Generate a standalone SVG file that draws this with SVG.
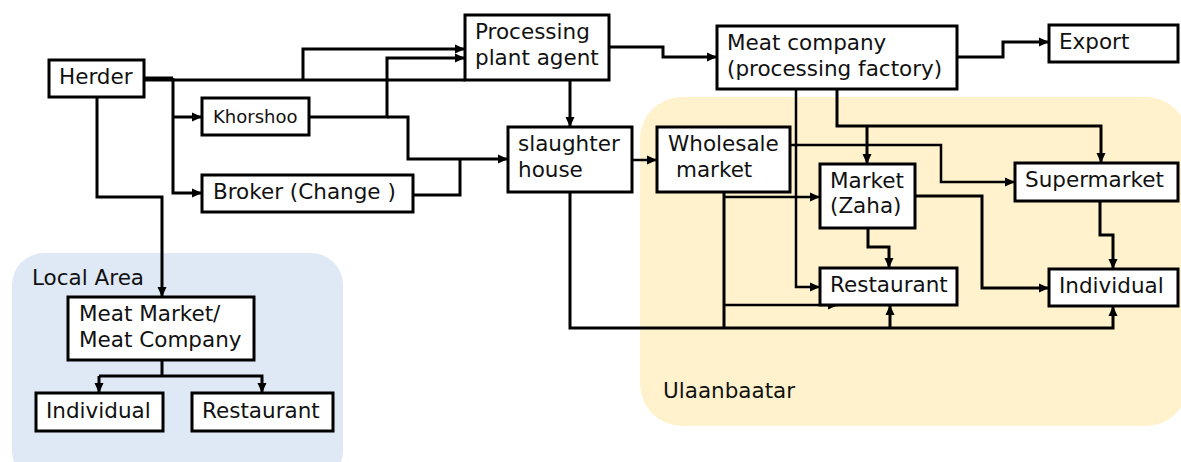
<svg xmlns="http://www.w3.org/2000/svg" width="1181" height="462" viewBox="0 0 1181 462">
<defs>
<style>
.box{fill:#fff;stroke:#000;stroke-width:3}
.t{font-family:"DejaVu Sans",Verdana,sans-serif;font-size:21.5px;fill:#111}
.ts{font-family:"DejaVu Sans",Verdana,sans-serif;font-size:18px;fill:#111}
.c{fill:none;stroke:#000;stroke-width:3;stroke-linejoin:miter}
.c2{fill:none;stroke:#000;stroke-width:2.5;stroke-linejoin:miter}
</style>
<marker id="ah" viewBox="0 0 10 10" refX="10" refY="5" markerWidth="10" markerHeight="10" markerUnits="userSpaceOnUse" orient="auto">
<path d="M0,0.5 L10,5 L0,9.5 z" fill="#000"/>
</marker>
</defs>

<g id="regions">
<rect id="local-area" x="12" y="253" width="331" height="230" rx="32" fill="#DEE9F5"/>
<text class="t" x="32" y="285">Local Area</text>
<rect id="ulaanbaatar" x="640" y="97" width="548" height="329" rx="42" fill="#FFF2CC"/>
<text class="t" x="663" y="398">Ulaanbaatar</text>
</g>

<g id="connectors">
<path class="c" d="M144,78 H173"/>
<path class="c" d="M144,80 H465"/>
<path class="c" d="M303,80 V49 H465" marker-end="url(#ah)"/>
<path class="c" d="M173,78 V193 H202" marker-end="url(#ah)"/>
<path class="c" d="M173,117 H202" marker-end="url(#ah)"/>
<path class="c" d="M97,97 V197 H162 V297" marker-end="url(#ah)"/>
<path class="c" d="M309,117 H387 V58 H465" marker-end="url(#ah)"/>
<path class="c" d="M387,117 H408 V159 H508" marker-end="url(#ah)"/>
<path class="c" d="M413,195 H460 V159"/>
<path class="c" d="M570,80 V127" marker-end="url(#ah)"/>
<path class="c" d="M609,47 H663 V57 H717" marker-end="url(#ah)"/>
<path class="c" d="M957,57 H1003 V42 H1049" marker-end="url(#ah)"/>
<path class="c2" d="M632,160 H657" marker-end="url(#ah)"/>
<path class="c" d="M570,192 V328 H1113 V306" marker-end="url(#ah)"/>
<path class="c" d="M890,328 V305" marker-end="url(#ah)"/>
<path class="c" d="M724,192 V328"/>
<path class="c2" d="M724,197 H820" marker-end="url(#ah)"/>
<path class="c2" d="M724,305 H838" marker-end="url(#ah)"/>
<path class="c2" d="M790,145 H941 V182 H1015" marker-end="url(#ah)"/>
<path class="c2" d="M796,89 V287 H820" marker-end="url(#ah)"/>
<path class="c" d="M837,89 V126 H1101 V163" marker-end="url(#ah)"/>
<path class="c" d="M867,126 V164" marker-end="url(#ah)"/>
<path class="c" d="M868,228 V247 H889 V268" marker-end="url(#ah)"/>
<path class="c" d="M915,196 H982 V288 H1049" marker-end="url(#ah)"/>
<path class="c" d="M1100,201 V235 H1113 V269" marker-end="url(#ah)"/>
<path class="c" d="M162,360 V376"/>
<path class="c" d="M99,376 H262 V393" marker-end="url(#ah)"/>
<path class="c" d="M99,376 V393" marker-end="url(#ah)"/>
</g>

<g id="herder"><rect class="box" x="49" y="60" width="95" height="37"/><text class="t" x="59" y="84">Herder</text></g>
<g id="khorshoo"><rect class="box" x="202" y="98" width="107" height="37"/><text class="ts" x="213" y="123">Khorshoo</text></g>
<g id="broker"><rect class="box" x="202" y="175" width="211" height="37"/><text class="t" x="213" y="199">Broker (Change )</text></g>
<g id="processing-plant-agent"><rect class="box" x="465" y="15" width="144" height="65"/><text class="t" x="475" y="39">Processing</text><text class="t" x="475" y="65">plant agent</text></g>
<g id="meat-company"><rect class="box" x="717" y="26" width="240" height="63"/><text class="t" x="727" y="50">Meat company</text><text class="t" x="727" y="76">(processing factory)</text></g>
<g id="export"><rect class="box" x="1049" y="25" width="129" height="37"/><text class="t" x="1059" y="49">Export</text></g>
<g id="slaughter-house"><rect class="box" x="508" y="127" width="124" height="65"/><text class="t" x="518" y="151">slaughter</text><text class="t" x="518" y="177">house</text></g>
<g id="wholesale-market"><rect class="box" x="657" y="127" width="133" height="65"/><text class="t" x="668" y="151">Wholesale</text><text class="t" x="676" y="177">market</text></g>
<g id="market-zaha"><rect class="box" x="820" y="164" width="95" height="64"/><text class="t" x="830" y="188">Market</text><text class="t" x="830" y="213">(Zaha)</text></g>
<g id="supermarket"><rect class="box" x="1015" y="163" width="163" height="38"/><text class="t" x="1025" y="187">Supermarket</text></g>
<g id="restaurant-ub"><rect class="box" x="820" y="268" width="137" height="37"/><text class="t" x="830" y="292">Restaurant</text></g>
<g id="individual-ub"><rect class="box" x="1049" y="269" width="129" height="37"/><text class="t" x="1059" y="293">Individual</text></g>
<g id="meat-market-local"><rect class="box" x="68" y="297" width="186" height="63"/><text class="t" x="79" y="321">Meat Market/</text><text class="t" x="79" y="347">Meat Company</text></g>
<g id="individual-local"><rect class="box" x="36" y="393" width="127" height="38"/><text class="t" x="46" y="418">Individual</text></g>
<g id="restaurant-local"><rect class="box" x="192" y="393" width="141" height="38"/><text class="t" x="202" y="418">Restaurant</text></g>
</svg>
